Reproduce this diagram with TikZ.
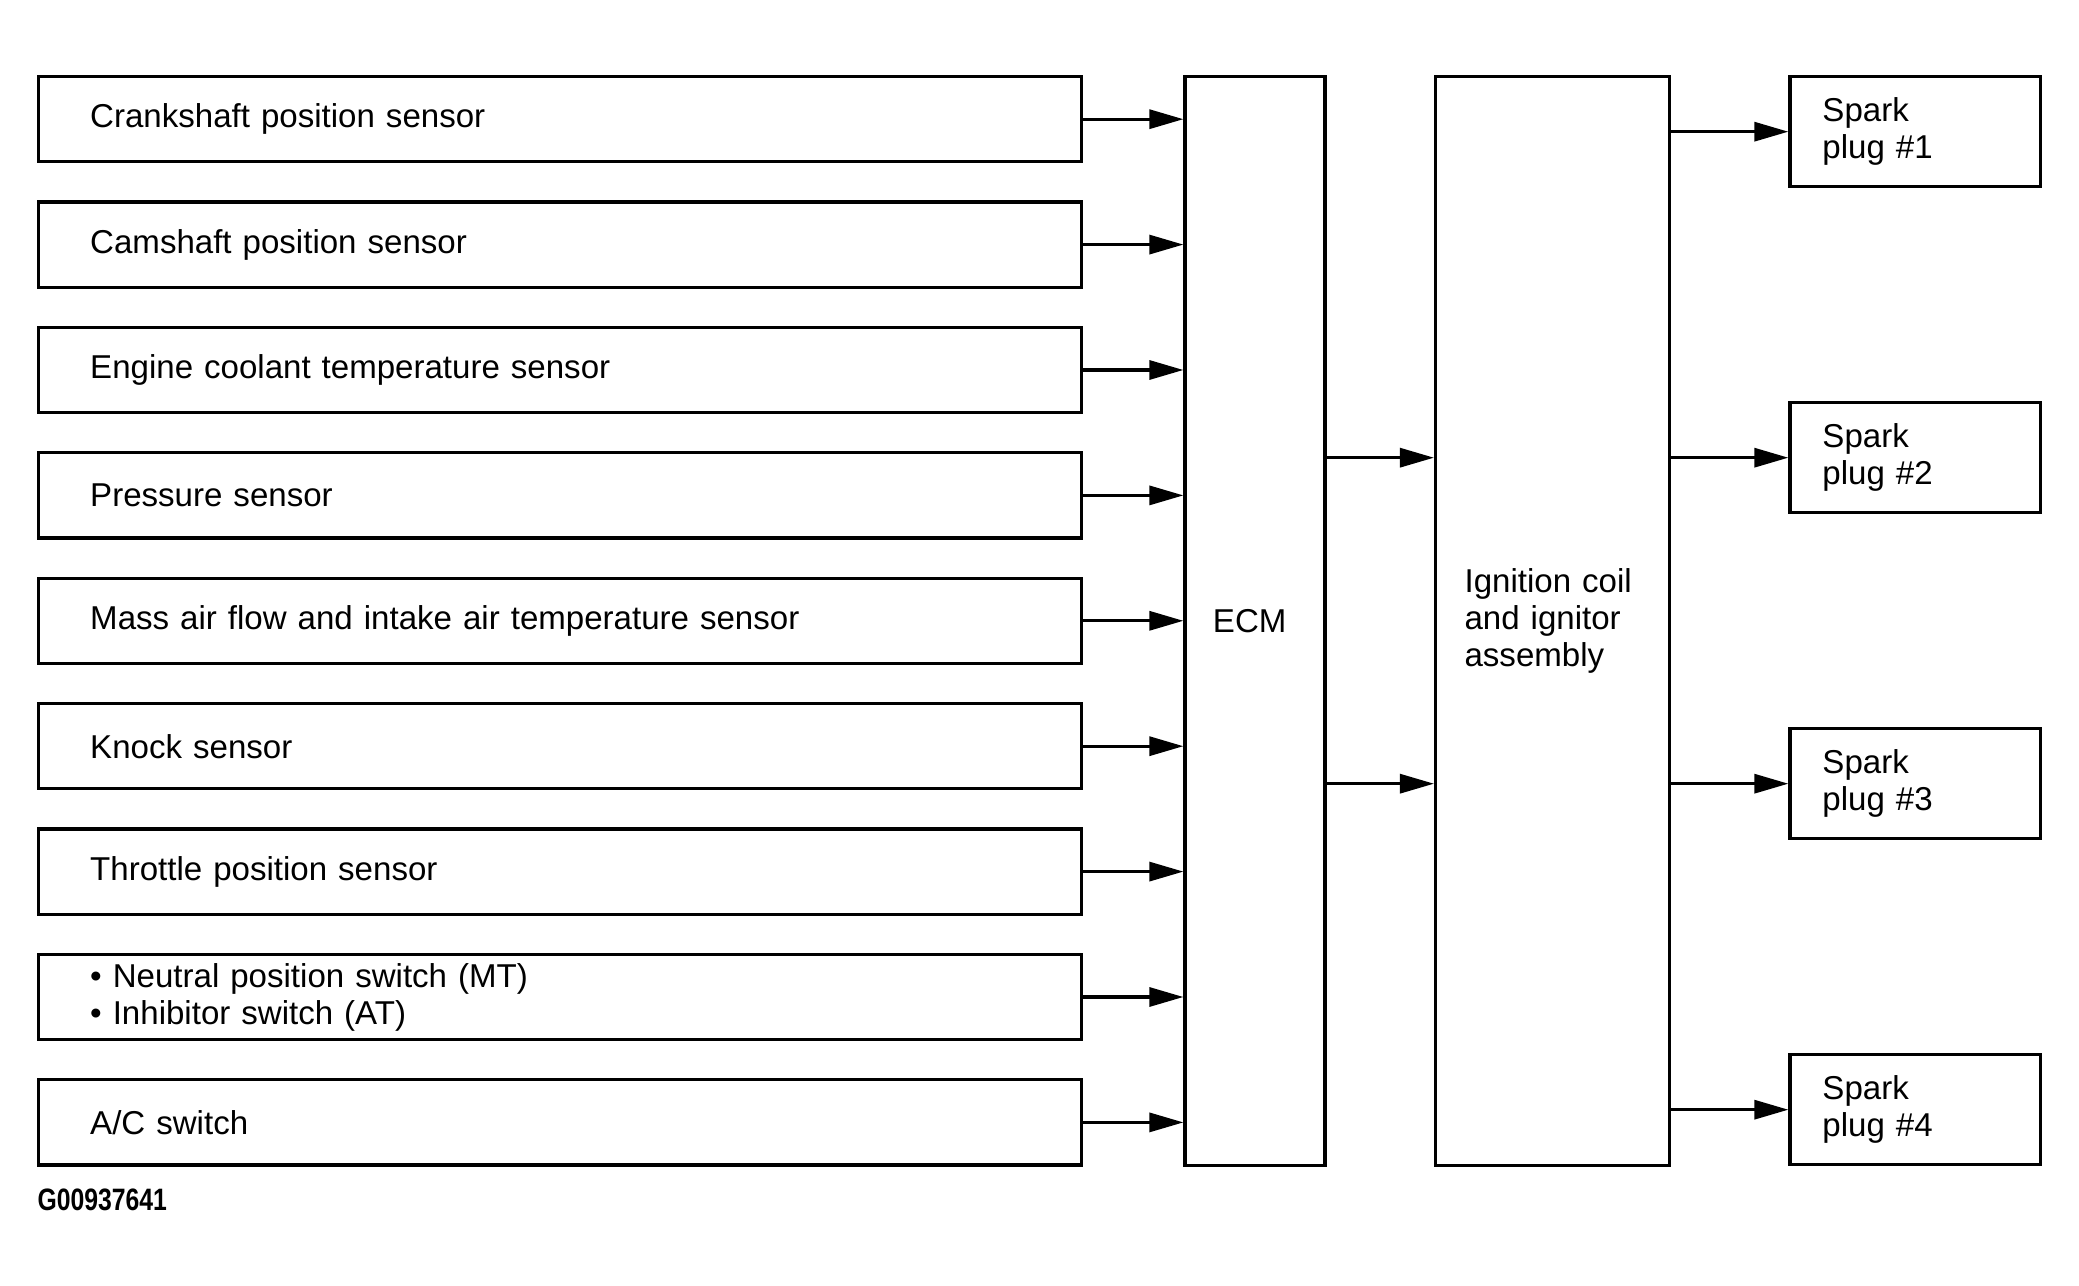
\documentclass[tikz,border=0pt]{standalone}
\usepackage{fontspec}
\usepackage{graphicx}
\setmainfont{Liberation Sans}
\usetikzlibrary{arrows.meta}
\begin{document}
\begin{tikzpicture}[x=0.01cm,y=-0.01cm,>={Triangle[length=0.34cm,width=0.19cm]},line width=0.9pt,font=\fontsize{9.4}{10.5}\selectfont,
	box/.style={draw,rectangle,align=left},
	sensor/.style={box,minimum height=0.85cm,inner xsep=0.515cm,inner ysep=0pt,text width=9.39cm},
	plug/.style={box,minimum height=1.1cm,inner xsep=0.325cm,text width=1.85cm}]
		\useasboundingbox (0,0) rectangle (2079,1286);
		\foreach \i/\t in {1/{Crankshaft position sensor},2/{Camshaft position sensor},3/{Engine coolant temperature sensor},4/{Pressure sensor},5/{Mass air flow and intake air temperature sensor},6/{Knock sensor},7/{Throttle position sensor},8/{\textbullet\ Neutral position switch (MT)\\\textbullet\ Inhibitor switch (AT)},9/{A/C switch}}
		\node[sensor] (s\i) at (560,{119.2+125.4*(\i-1)}) {\t};
		\node[box,minimum height=10.88cm,text width=0.84cm,inner xsep=0.28cm] (ecm) at (1255,621) {ECM};
		\node[box,minimum height=10.88cm,text width=1.754cm,inner xsep=0.29cm] (ign) at (1552.3,621) {Ignition coil\\and ignitor\\assembly};
		\foreach \i in {1,...,4}
		\node[plug] (p\i) at (1915,{131.7+326*(\i-1)}) {Spark\\plug \#\i};
		\foreach \i in {1,...,9}
		\draw[->] (s\i.east) -- (s\i.east -| ecm.west);
		\foreach \i in {2,3}
		\draw[->] (ecm.east |- p\i) -- (ign.west |- p\i);
		\foreach \i in {1,...,4}
		\draw[->] (ign.east |- p\i) -- (p\i.west);
		\node[anchor=west,inner sep=0pt,font=\fontsize{8.8}{10}\selectfont\bfseries] (code) at (36,1200) {\scalebox{0.8}[1]{G00937641}};
\end{tikzpicture}
\end{document}
